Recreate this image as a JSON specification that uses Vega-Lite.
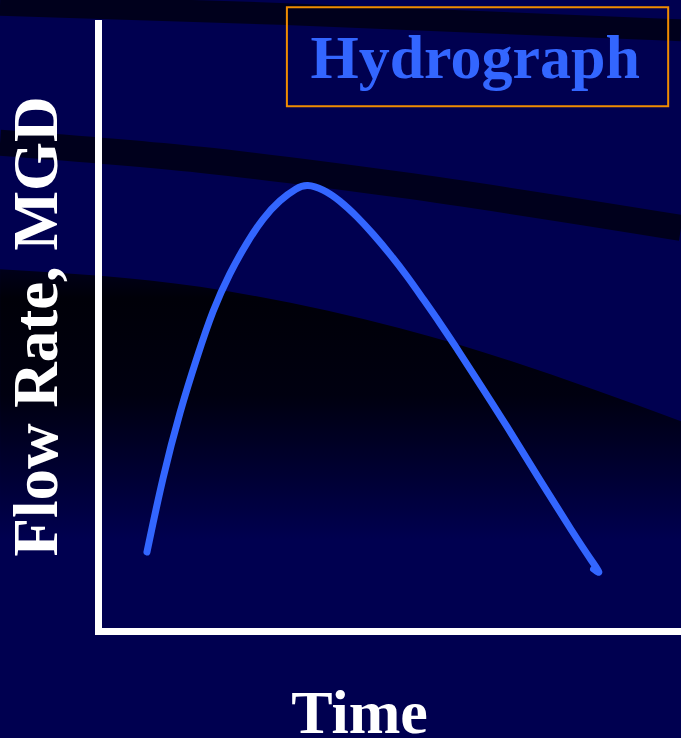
{
  "$schema": "https://vega.github.io/schema/vega-lite/v6.json",
  "width": 583,
  "height": 608,
  "autosize": {"type": "none"},
  "padding": {"left": 98, "top": 23, "right": 0, "bottom": 107},
  "background": "#000050",
  "config": {
    "view": {"stroke": null},
    "axis": {
      "labels": false,
      "ticks": false,
      "grid": false,
      "domainColor": "white",
      "domainWidth": 7,
      "domainCap": "square",
      "titleFont": "Liberation Serif",
      "titleFontSize": 62,
      "titleFontWeight": "bold",
      "titleColor": "white",
      "titleAlign": "center",
      "titleBaseline": "alphabetic"
    },
    "axisX": {"titleX": 261, "titleY": 101},
    "axisY": {"titleAngle": -90, "titleX": -42, "titleY": 303, "titleFontSize": 63}
  },
  "datasets": {
    "flow": [
      {"t": 1, "time": 0.84, "flow": 1.30},
      {"t": 2, "time": 1.11, "flow": 2.53},
      {"t": 3, "time": 1.41, "flow": 3.63},
      {"t": 4, "time": 1.70, "flow": 4.51},
      {"t": 5, "time": 1.97, "flow": 5.28},
      {"t": 6, "time": 2.26, "flow": 5.89},
      {"t": 7, "time": 2.56, "flow": 6.40},
      {"t": 8, "time": 2.83, "flow": 6.79},
      {"t": 9, "time": 3.12, "flow": 7.09},
      {"t": 10, "time": 3.41, "flow": 7.29},
      {"t": 11, "time": 3.58, "flow": 7.35},
      {"t": 12, "time": 3.86, "flow": 7.27},
      {"t": 13, "time": 4.15, "flow": 7.08},
      {"t": 14, "time": 4.44, "flow": 6.82},
      {"t": 15, "time": 4.72, "flow": 6.53},
      {"t": 16, "time": 5.01, "flow": 6.20},
      {"t": 17, "time": 5.30, "flow": 5.84},
      {"t": 18, "time": 5.57, "flow": 5.47},
      {"t": 19, "time": 5.87, "flow": 5.06},
      {"t": 20, "time": 6.16, "flow": 4.64},
      {"t": 21, "time": 6.43, "flow": 4.24},
      {"t": 22, "time": 7.02, "flow": 3.36},
      {"t": 23, "time": 7.58, "flow": 2.48},
      {"t": 24, "time": 8.15, "flow": 1.61},
      {"t": 25, "time": 8.49, "flow": 1.12},
      {"t": 26, "time": 8.64, "flow": 0.92},
      {"t": 27, "time": 8.50, "flow": 1.02}
    ],
    "bands": [
      {"band": "A", "time": -1.68, "flow": 10.3},
      {"band": "A", "time": 3.12, "flow": 10.15},
      {"band": "A", "time": 10.0, "flow": 9.88},
      {"band": "B", "time": -1.68, "flow": 8.03},
      {"band": "B", "time": 1.75, "flow": 7.75},
      {"band": "B", "time": 5.18, "flow": 7.34},
      {"band": "B", "time": 10.0, "flow": 6.63}
    ],
    "dark": [
      {"time": -1.68, "top": 5.95, "bottom": 0},
      {"time": 1.75, "top": 5.66, "bottom": 0},
      {"time": 5.18, "top": 4.98, "bottom": 0},
      {"time": 10.0, "top": 3.45, "bottom": 0}
    ],
    "label": [{"name": "Hydrograph"}]
  },
  "layer": [
    {
      "data": {"name": "dark"},
      "mark": {
        "type": "area",
        "interpolate": "monotone",
        "color": {
          "gradient": "linear",
          "x1": 0, "y1": 0, "x2": 0, "y2": 1,
          "stops": [
            {"offset": 0, "color": "#00001a"},
            {"offset": 0.08, "color": "#000008"},
            {"offset": 0.35, "color": "#000010"},
            {"offset": 0.75, "color": "#000050"},
            {"offset": 1, "color": "#000050"}
          ]
        }
      },
      "encoding": {
        "x": {"field": "time", "type": "quantitative", "title": "Time", "scale": {"domain": [0, 10], "nice": false, "zero": false}, "axis": {"zindex": 1}},
        "y": {"field": "top", "type": "quantitative", "title": "Flow Rate, MGD", "scale": {"domain": [0, 10], "nice": false, "zero": false}, "axis": {"zindex": 1}},
        "y2": {"field": "bottom"}
      }
    },
    {
      "data": {"name": "bands"},
      "transform": [{"filter": "datum.band == 'A'"}],
      "mark": {"type": "line", "interpolate": "monotone", "color": "#00001c", "strokeWidth": 22},
      "encoding": {
        "x": {"field": "time", "type": "quantitative", "title": "Time", "axis": {"zindex": 1}},
        "y": {"field": "flow", "type": "quantitative", "title": "Flow Rate, MGD", "axis": {"zindex": 1}}
      }
    },
    {
      "data": {"name": "bands"},
      "transform": [{"filter": "datum.band == 'B'"}],
      "mark": {"type": "line", "interpolate": "monotone", "color": "#00001c", "strokeWidth": 26},
      "encoding": {
        "x": {"field": "time", "type": "quantitative", "title": "Time", "axis": {"zindex": 1}},
        "y": {"field": "flow", "type": "quantitative", "title": "Flow Rate, MGD", "axis": {"zindex": 1}}
      }
    },
    {
      "data": {"name": "flow"},
      "mark": {"type": "line", "interpolate": "basis", "color": "#3366ff", "strokeWidth": 7, "strokeCap": "round", "strokeJoin": "round"},
      "encoding": {
        "order": {"field": "t", "type": "quantitative"},
        "x": {"field": "time", "type": "quantitative", "title": "Time", "axis": {"zindex": 1}},
        "y": {"field": "flow", "type": "quantitative", "title": "Flow Rate, MGD", "axis": {"zindex": 1}}
      }
    },
    {
      "data": {"name": "label"},
      "mark": {"type": "rect", "fill": null, "fillOpacity": 0, "stroke": "#f08c00", "strokeWidth": 2},
      "encoding": {
        "x": {"datum": 3.24, "type": "quantitative", "title": "Time", "axis": {"zindex": 1}},
        "x2": {"datum": 9.78},
        "y": {"datum": 10.26, "type": "quantitative", "title": "Flow Rate, MGD", "axis": {"zindex": 1}},
        "y2": {"datum": 8.63}
      }
    },
    {
      "data": {"name": "label"},
      "mark": {"type": "text", "font": "Liberation Serif", "fontWeight": "bold", "fontSize": 62, "color": "#3366ff", "align": "center", "baseline": "alphabetic"},
      "encoding": {
        "text": {"field": "name"},
        "x": {"datum": 6.47, "type": "quantitative", "title": "Time", "axis": {"zindex": 1}},
        "y": {"datum": 9.10, "type": "quantitative", "title": "Flow Rate, MGD", "axis": {"zindex": 1}}
      }
    }
  ]
}
